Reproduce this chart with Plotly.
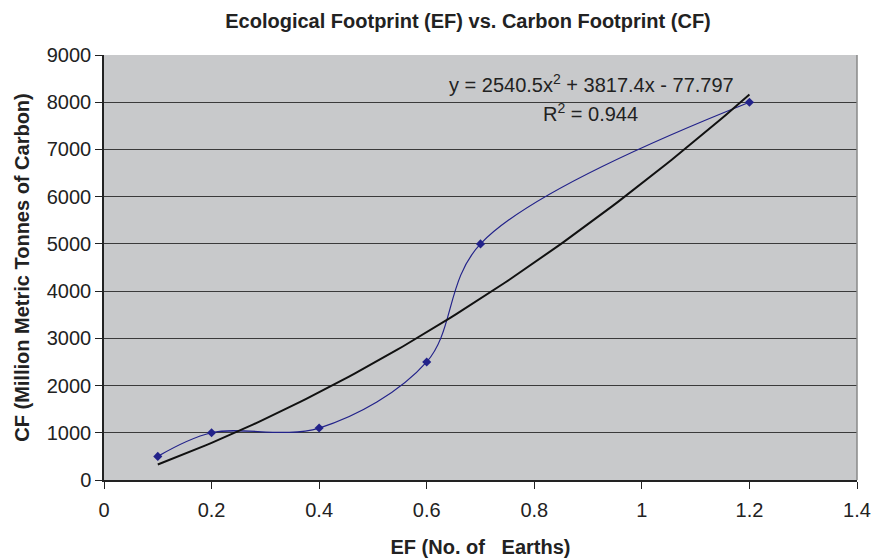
import plotly.graph_objects as go
import numpy as np

ef = [0.1, 0.2, 0.4, 0.6, 0.7, 1.2]
cf = [500, 1000, 1100, 2500, 5000, 8000]
trend_coef = [2540.5, 3817.4, -77.797]  # a, b, c
x_ticks = [0, 0.2, 0.4, 0.6, 0.8, 1.0, 1.2, 1.4]
y_ticks = list(range(0, 9001, 1000))

tx = np.linspace(min(ef), max(ef), 100)
ty = np.polyval(trend_coef, tx)

font = "Liberation Sans, Arial, sans-serif"
tc = "#222222"

fig = go.Figure()
fig.add_trace(go.Scatter(
    x=ef, y=cf, mode="lines+markers",
    line=dict(color="#22228a", width=1.2, shape="spline", smoothing=1.0),
    marker=dict(symbol="diamond", size=7, color="#22228a"),
    showlegend=False))
fig.add_trace(go.Scatter(
    x=tx, y=ty, mode="lines",
    line=dict(color="#111111", width=2),
    showlegend=False))

fig.update_layout(
    width=874, height=558,
    margin=dict(l=104, r=17, t=55, b=78),
    paper_bgcolor="white",
    plot_bgcolor="#c8c9cb",
    font=dict(family=font, color=tc),
    title=dict(text="<b>Ecological Footprint (EF) vs. Carbon Footprint (CF)</b>",
               x=(468) / 874, xanchor="center", y=1 - 21 / 558, yanchor="middle",
               font=dict(size=20, color=tc)),
    xaxis=dict(range=[0, 1.4], tickvals=x_ticks, showgrid=False, zeroline=False,
               automargin=False,
               showline=True, linecolor=tc, linewidth=1.5,
               ticks="outside", ticklen=7, tickcolor=tc, ticklabelstandoff=4,
               tickfont=dict(size=20, color=tc),
               title=dict(text="<b>EF (No. of\u00a0\u00a0 Earths)</b>", font=dict(size=20, color=tc),
                          standoff=22)),
    yaxis=dict(range=[0, 9000], tickvals=y_ticks, showgrid=True, gridcolor="#3a3a3a",
               gridwidth=1, zeroline=False, automargin=False,
               showline=True, linecolor=tc, linewidth=1.5,
               ticks="outside", ticklen=7, tickcolor=tc,
               tickfont=dict(size=20, color=tc),
               title=dict(text="<b>CF (Million Metric Tonnes of Carbon)</b>",
                          font=dict(size=20, color=tc), standoff=12)),
    shapes=[dict(type="line", xref="paper", yref="paper", x0=1, x1=1, y0=0, y1=1,
                 line=dict(color="#888888", width=1.5))],
    annotations=[
        dict(text="y = 2540.5x<sup>2</sup> + 3817.4x - 77.797", xref="paper", yref="paper",
             x=(591 - 104) / 753, y=(480 - 83) / 425, showarrow=False,
             font=dict(size=20, color=tc), xanchor="center", yanchor="middle"),
        dict(text="R<sup>2</sup> = 0.944", xref="paper", yref="paper",
             x=(590 - 104) / 753, y=(480 - 112) / 425, showarrow=False,
             font=dict(size=20, color=tc), xanchor="center", yanchor="middle"),
    ],
)

fig.write_html("out.html")
